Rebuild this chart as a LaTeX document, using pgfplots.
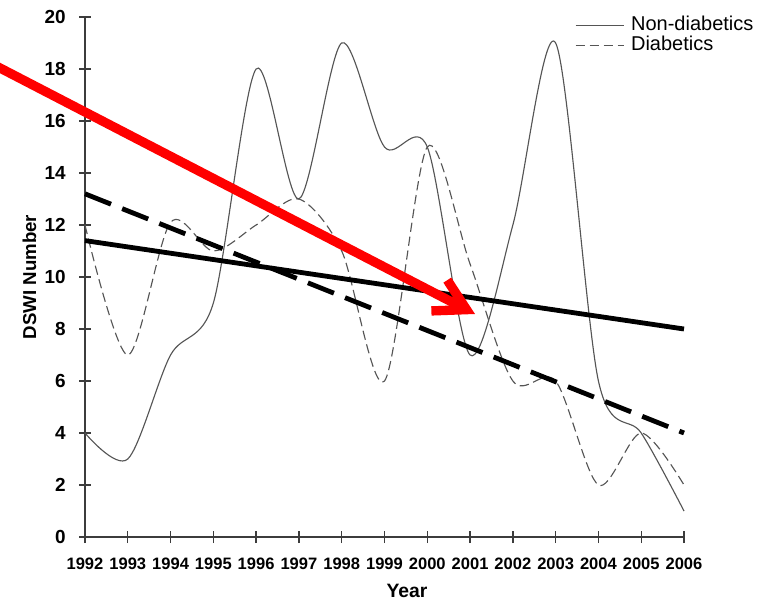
\documentclass[border=0pt]{standalone}
\usepackage{fontspec}
\setmainfont{Liberation Sans}
\usepackage{pgfplots}
\pgfplotsset{compat=1.18}
\usetikzlibrary{arrows.meta}
\definecolor{curve}{HTML}{555555}
\definecolor{axisgray}{HTML}{3C3C3C}
\begin{document}
\begin{tikzpicture}
\path[use as bounding box] (0pt,0pt) rectangle (581.25pt,450pt);
\begin{axis}[
  at={(63.75pt,47.25pt)}, anchor=south west,
  scale only axis, width=449.25pt, height=390pt,
  xmin=1992, xmax=2006, ymin=0, ymax=20,
  xtick={1992,1993,...,2006}, ytick={0,2,...,20},
  axis lines*=left, axis line style={axisgray, line width=1.3pt, -},
  tick style={axisgray, line width=1pt}, tick align=center, major tick length=9pt,
  /pgf/number format/assume math mode=true,
  /pgf/number format/1000 sep={},
  xticklabel style={font=\bfseries\fontsize{12.4}{14}\selectfont, yshift=-7.8pt},
  yticklabel style={font=\bfseries\fontsize{14.2}{16}\selectfont, xshift=-6.4pt},
  xlabel={Year}, ylabel={DSWI Number},
  xlabel style={font=\bfseries\fontsize{14.5}{16}\selectfont, at={(axis description cs:0.5376,-0.1154)}, anchor=base},
  ylabel style={font=\bfseries\fontsize{14}{16}\selectfont, at={(axis description cs:-0.0927,0.5)}, anchor=center},
  legend style={at={(axis description cs:0.818,1.0027)}, anchor=north west, draw=none, fill=none,
    inner sep=0pt, outer sep=0pt, column sep=5.25pt, row sep=0pt,
    font=\fontsize{15}{15}\selectfont,
    nodes={inner sep=0pt, text height=11pt, text depth=4pt}},
  legend cell align=left,
  legend image code/.code={\draw[#1] (0pt,0pt) -- (36pt,0pt);},
  clip=false,
]
\addplot[curve, line width=0.85pt, smooth] coordinates {
 (1992,4)(1993,3)(1994,7)(1995,9)(1996,18)(1997,13)(1998,19)(1999,15)
 (2000,15)(2001,7)(2002,12)(2003,19)(2004,6)(2005,4)(2006,1)};
\addlegendentry{Non-diabetics}
\addplot[curve, line width=0.85pt, smooth, dash pattern=on 7pt off 3.5pt] coordinates {
 (1992,12)(1993,7)(1994,12.1)(1995,11)(1996,12)(1997,13)(1998,11)(1999,6)
 (2000,15)(2001,10.5)(2002,6)(2003,6)(2004,2)(2005,4)(2006,2)};
\addlegendentry{Diabetics}
\addplot[black, line width=3.6pt, forget plot] coordinates {(1992,11.4)(2006,8.0)};
\addplot[black, line width=3.6pt, dash pattern=on 21pt off 9pt, forget plot] coordinates {(1992,13.2)(2006,4.0)};
\end{axis}
\draw[red, line width=7pt, -{Straight Barb[length=23pt 0 0, width=26pt 0 0]}] (-3.75pt,400.95pt) -- (356.25pt,214.5pt);
\end{tikzpicture}
\end{document}
